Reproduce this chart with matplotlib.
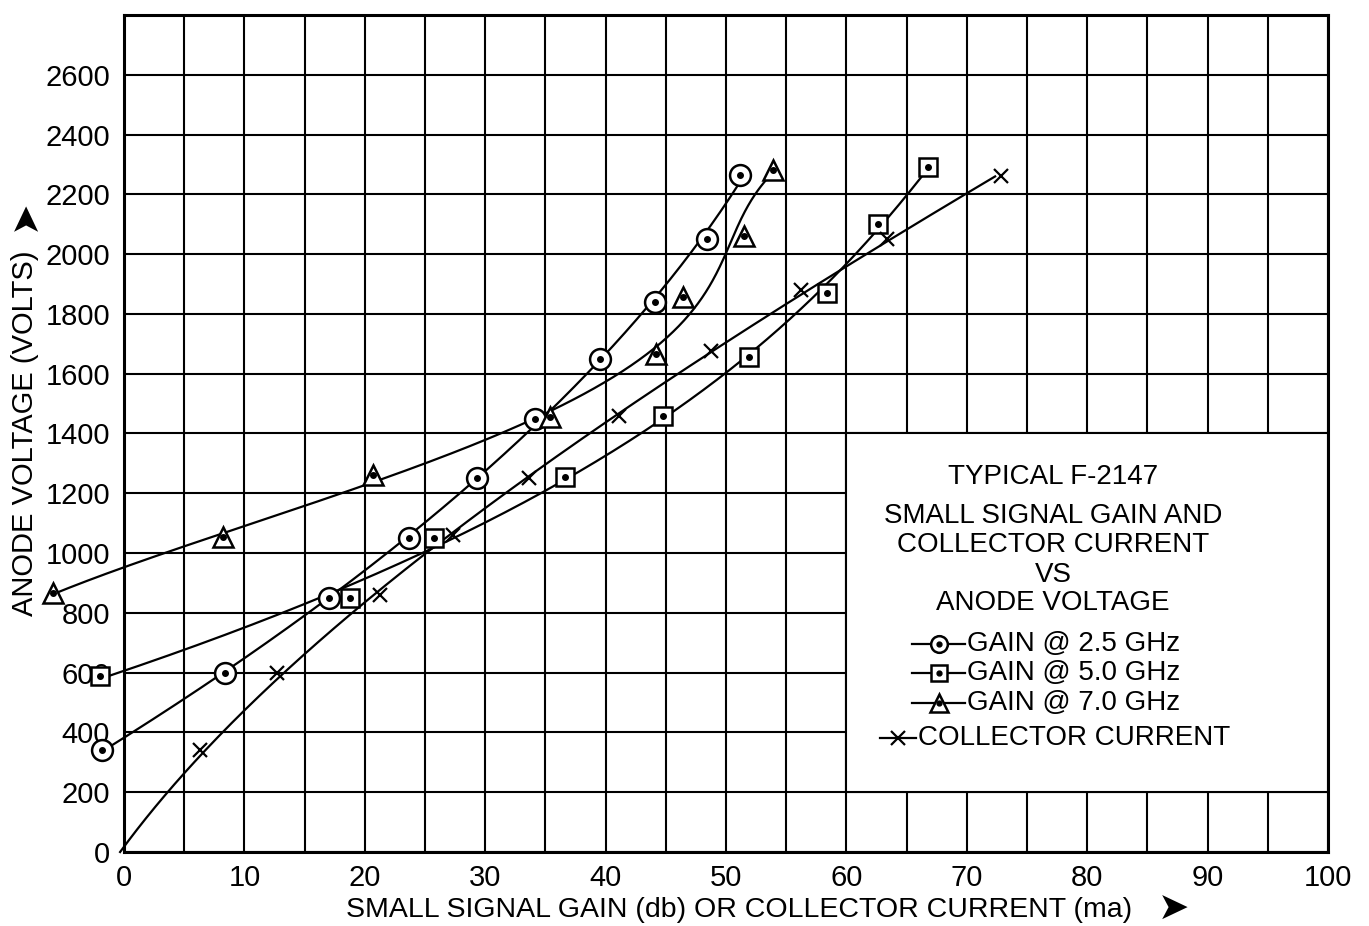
import numpy as np
import matplotlib
matplotlib.use("Agg")
import matplotlib.pyplot as plt
from matplotlib.patches import Rectangle

plt.rcParams['font.family'] = ['Liberation Sans', 'DejaVu Sans']

# Values (x = gain db / current ma, y = anode volts)
gain_25_x = [-1.8, 8.4, 17.0, 23.7, 29.3, 34.1, 39.5, 44.1, 48.4, 51.2]
gain_25_y = [340, 600, 850, 1050, 1250, 1450, 1650, 1840, 2050, 2265]

gain_50_x = [-2.0, 18.8, 25.75, 36.6, 44.8, 51.9, 58.4, 62.6, 66.8]
gain_50_y = [590, 850, 1050, 1255, 1460, 1655, 1870, 2100, 2290]

gain_70_x = [-5.9, 8.2, 20.7, 35.4, 44.2, 46.4, 51.5, 53.9]
gain_70_y = [865, 1055, 1260, 1455, 1665, 1855, 2060, 2280]

coll_x = [0.0, 6.3, 12.7, 21.25, 27.3, 33.6, 41.1, 48.75, 56.25, 63.4, 72.8]
coll_y = [0, 340, 600, 860, 1060, 1250, 1460, 1675, 1880, 2050, 2260]

x_ticks = list(range(0, 101, 10))
y_ticks = list(range(0, 2601, 200))

title_lines = ["TYPICAL F-2147", "SMALL SIGNAL GAIN AND", "COLLECTOR CURRENT",
               "VS", "ANODE VOLTAGE"]
legend_labels = ["GAIN @ 2.5 GHz", "GAIN @ 5.0 GHz", "GAIN @ 7.0 GHz",
                 "COLLECTOR CURRENT"]


def smooth(xs, ys, deg=3):
    # fitted curve, x as a function of voltage
    c = np.polyfit(ys, xs, deg)
    yy = np.linspace(ys[0], ys[-1], 300)
    return np.polyval(c, yy), yy


fig = plt.figure(figsize=(13.69, 9.26), dpi=100)
ax = fig.add_axes([124 / 1369, 74 / 926, 1204 / 1369, 837 / 926])

ax.set_xlim(0, 100)
ax.set_ylim(0, 2800)
ax.set_xticks(x_ticks)
ax.set_xticks(np.arange(5, 100, 10), minor=True)
ax.set_yticks(y_ticks)
ax.grid(True, which='both', color='black', lw=1.5)
ax.set_axisbelow(True)
ax.tick_params(which='both', length=0, labelsize=21)
ax.tick_params(axis='x', pad=9)
ax.tick_params(axis='y', pad=10)
for s in ax.spines.values():
    s.set_linewidth(2.2)

# white box holding the title and key
ax.add_patch(Rectangle((60, 200), 40, 1200, facecolor='white',
                       edgecolor='black', lw=1.5, zorder=1))

mk = dict(color='black', mfc='white', mec='black', mew=1.8, lw=0, clip_on=False, zorder=4)
dot = dict(color='black', marker='o', ms=4, lw=0, clip_on=False, zorder=5)
ln = dict(color='black', lw=1.6, clip_on=False, zorder=3)

series = [
    (gain_25_x, gain_25_y, 'o', 15, 3),
    (gain_50_x, gain_50_y, 's', 13, 3),
    (gain_70_x, gain_70_y, '^', 15, 4),
]
for xs, ys, m, s, deg in series:
    cx, cy = smooth(xs, ys, deg)
    ax.plot(cx, cy, **ln)
    ax.plot(xs, ys, marker=m, ms=s, **mk)
    ax.plot(xs, ys, **dot)

cx, cy = smooth(coll_x, coll_y)
ax.plot(cx, cy, **ln)
ax.plot(coll_x[1:], coll_y[1:], marker='x', ms=10, mew=1.6, color='black', lw=0, zorder=4)

# title block inside the box
for txt, yy in zip(title_lines, [0.448, 0.4014, 0.3668, 0.331, 0.2975]):
    ax.text(0.7716, yy, txt, transform=ax.transAxes, ha='center', va='center',
            fontsize=20, zorder=6)

# key rows
rows_y = [0.2485, 0.2139, 0.178]
for lab, yy, m, s in zip(legend_labels[:3], rows_y, ['o', 's', '^'], [12, 11, 13]):
    ax.plot([0.6545, 0.6985], [yy, yy], transform=ax.transAxes, **ln)
    ax.plot([0.6772], [yy], marker=m, ms=s, transform=ax.transAxes, **mk)
    ax.plot([0.6772], [yy], transform=ax.transAxes, **dict(dot, ms=3.5))
    ax.text(0.7002, yy, lab, transform=ax.transAxes, ha='left', va='center',
            fontsize=20, zorder=6)
ax.plot([0.628, 0.658], [0.1362, 0.1362], transform=ax.transAxes, **ln)
ax.plot([0.643], [0.1362], marker='x', ms=10, mew=1.6, color='black',
        transform=ax.transAxes, zorder=4)
ax.text(0.6595, 0.1362, legend_labels[3], transform=ax.transAxes, ha='left',
        va='center', fontsize=20, zorder=6)

# axis titles with arrowheads
fig.text(0.540, 0.017, "SMALL SIGNAL GAIN (db) OR COLLECTOR CURRENT (ma)",
         ha='center', va='center', fontsize=20.5)
fig.text(0.857, 0.017, "\u27a4", ha='center', va='center', fontsize=27,
         family='DejaVu Sans')
fig.text(0.0185, 0.532, "ANODE VOLTAGE (VOLTS)", rotation=90,
         ha='center', va='center', fontsize=21)
fig.text(0.0185, 0.767, "\u27a4", rotation=90, ha='center', va='center',
         fontsize=27, family='DejaVu Sans')

fig.savefig("out.png", dpi=100)
